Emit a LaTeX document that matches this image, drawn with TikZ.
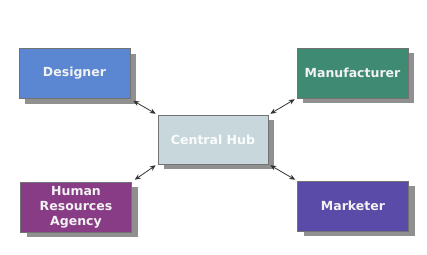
\documentclass[tikz,border=0pt]{standalone}
\usepackage{fontspec}
\setmainfont{DejaVu Sans}
\usetikzlibrary{arrows.meta,shadows}
\definecolor{designerblue}{HTML}{5A86D2}
\definecolor{makergreen}{HTML}{3F8A72}
\definecolor{hrpurple}{HTML}{883C86}
\definecolor{marketpurple}{HTML}{5A4BA8}
\definecolor{hubgray}{HTML}{C8D7DB}
\definecolor{shadowgray}{HTML}{909090}
\tikzset{
  party/.style={draw=black!55, line width=0.5pt, minimum width=111pt, minimum height=50pt,
    inner sep=0pt, align=center, text=white!95!black, font=\bfseries\fontsize{12.5}{15}\selectfont,
    drop shadow={shadow xshift=6pt, shadow yshift=-5pt, fill=shadowgray, opacity=1}},
  link/.style={{Stealth[length=6pt,width=5pt]}-{Stealth[length=6pt,width=5pt]}, line width=0.8pt, black!80}
}
\begin{document}
\begin{tikzpicture}[x=1pt,y=-1pt]
  \useasboundingbox[fill=white] (0,0) rectangle (427,254);
  \node[party, fill=designerblue] (designer) at (74.5,73.5) {Designer};
  \node[party, fill=makergreen] (maker) at (352.5,73) {Manufacturer};
  \node[party, fill=hubgray, minimum width=110pt, minimum height=49pt, text=white!92!hubgray] (hub) at (213,139.5) {Central Hub};
  \node[party, fill=hrpurple] (hr) at (76,207) {Human\\Resources\\Agency};
  \node[party, fill=marketpurple] (market) at (353,206) {Marketer};
  \draw[link] ([shift={(3pt,-2pt)}]designer.south east) -- ([shift={(-2pt,1pt)}]hub.north west);
  \draw[link] ([shift={(-2pt,-1pt)}]maker.south west) -- ([shift={(2pt,1pt)}]hub.north east);
  \draw[link] ([shift={(3pt,2pt)}]hr.north east) -- ([shift={(-2pt,-1pt)}]hub.south west);
  \draw[link] ([shift={(-2pt,1pt)}]market.north west) -- ([shift={(2pt,-1pt)}]hub.south east);
\end{tikzpicture}
\end{document}
